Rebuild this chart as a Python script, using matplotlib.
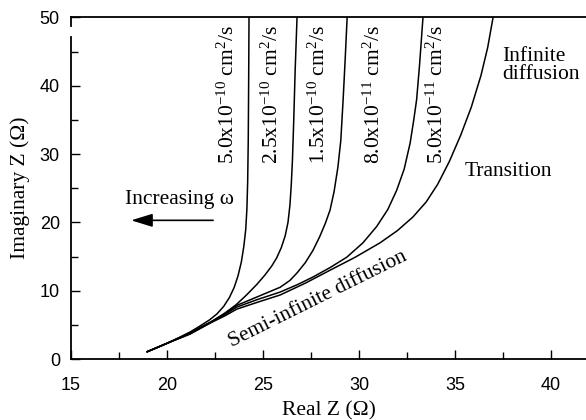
import numpy as np
import matplotlib
matplotlib.use("Agg")
import matplotlib.pyplot as plt
from matplotlib.ticker import MultipleLocator

plt.rcParams['mathtext.fontset'] = 'custom'
plt.rcParams['mathtext.rm'] = 'Liberation Serif'
plt.rcParams['mathtext.it'] = 'Liberation Serif:italic'

labels = [r"5.0x10$^{-10}$ cm$^{2}$/s", r"2.5x10$^{-10}$ cm$^{2}$/s",
          r"1.5x10$^{-10}$ cm$^{2}$/s", r"8.0x10$^{-11}$ cm$^{2}$/s",
          r"5.0x10$^{-11}$ cm$^{2}$/s"]

re_1 = [18.97, 19.5, 20.0, 20.6, 21.2, 21.7, 22.2, 22.6, 22.95, 23.25, 23.5, 23.7,
        23.87, 24.0, 24.1, 24.16, 24.2, 24.23, 24.25, 24.27]
im_1 = [1.07, 1.7, 2.3, 3.1, 3.95, 4.8, 5.7, 6.6, 7.7, 9.0, 10.5, 12.2,
        14.2, 16.5, 19.0, 22.0, 26.0, 32.0, 40.0, 50.0]

re_2 = [18.97, 20.0, 21.2, 22.3, 23.0, 23.6, 24.15, 24.67, 25.1, 25.45, 25.71,
        25.95, 26.15, 26.3, 26.4, 26.47, 26.53, 26.6, 26.67, 26.77]
im_2 = [1.07, 2.3, 3.85, 5.45, 6.7, 7.95, 9.4, 10.9, 12.3, 13.6, 14.8,
        16.3, 18.0, 20.0, 22.5, 25.5, 29.0, 35.0, 42.0, 50.0]

re_3 = [18.97, 20.0, 21.2, 22.24, 23.0, 23.63, 24.7, 25.89, 26.4, 26.77, 27.2,
        27.6, 27.95, 28.25, 28.49, 28.7, 28.9, 29.05, 29.17, 29.28, 29.38]
im_3 = [1.07, 2.3, 3.75, 5.35, 6.6, 7.85, 9.1, 10.5, 11.5, 12.6, 14.1,
        15.9, 17.9, 19.9, 21.8, 24.5, 28.1, 32.0, 37.9, 44.0, 50.0]

re_4 = [18.97, 20.0, 21.2, 22.24, 23.0, 23.63, 24.7, 25.89, 26.8, 27.6, 28.5,
        29.36, 30.2, 30.92, 31.5, 31.96, 32.35, 32.66, 32.85, 33.0, 33.15, 33.33]
im_4 = [1.07, 2.3, 3.7, 5.3, 6.5, 7.6, 8.7, 9.8, 10.9, 12.0, 13.4,
        14.9, 17.0, 19.4, 21.9, 24.7, 27.8, 31.6, 35.0, 38.0, 43.0, 50.0]

re_5 = [18.97, 20.0, 21.2, 22.24, 23.0, 23.63, 24.7, 25.89, 27.2, 28.49, 29.8,
        31.09, 32.0, 32.81, 33.5, 34.1, 34.7, 35.3, 35.85, 36.35, 36.7, 36.98]
im_5 = [1.07, 2.3, 3.65, 5.25, 6.3, 7.3, 8.3, 9.37, 11.1, 13.0, 14.9,
        17.0, 18.8, 20.8, 23.0, 25.6, 28.9, 32.8, 36.9, 41.5, 45.6, 50.0]

curves = [(re_1, im_1), (re_2, im_2), (re_3, im_3), (re_4, im_4), (re_5, im_5)]
label_x = [23.18, 25.47, 27.92, 30.78, 34.06]

fig = plt.figure(figsize=(5.86, 4.2), dpi=100)
ax = fig.add_axes([0.1212, 0.1452, 0.8788, 0.8133])

for (xr, yi) in curves:
    ax.plot(xr, yi, color='black', lw=1.1, solid_joinstyle='round')

serif = 'Liberation Serif'
for lx, lab in zip(label_x, labels):
    ax.text(lx, 48.9, lab, rotation=90, ha='center', va='top',
            family=serif, fontsize=15.5)

ax.text(37.45, 43.0, "Infinite\ndiffusion", ha='left', va='center',
        family=serif, fontsize=15.5, linespacing=0.95)
ax.text(35.52, 27.4, "Transition", ha='left', va='center',
        family=serif, fontsize=15.5)
ax.text(27.85, 8.7, "Semi-infinite diffusion", rotation=26.4,
        rotation_mode='anchor', ha='center', va='center',
        family=serif, fontsize=15.5)
ax.text(20.63, 23.4, "Increasing ω", ha='center', va='center',
        family=serif, fontsize=15.5)
ax.annotate("", xy=(18.13, 20.3), xytext=(22.4, 20.3),
            arrowprops=dict(arrowstyle='-|>,head_length=1.3,head_width=0.4',
                            color='black', lw=1.2, shrinkA=0, shrinkB=0))

ax.set_xlim(15, 41.82)
ax.set_ylim(0, 50)
ax.xaxis.set_major_locator(MultipleLocator(5))
ax.xaxis.set_minor_locator(MultipleLocator(2.5))
ax.yaxis.set_major_locator(MultipleLocator(10))
ax.yaxis.set_minor_locator(MultipleLocator(5))
ax.tick_params(which='both', direction='in', top=False, right=False, width=1.0)
ax.tick_params(which='major', length=6.5)
ax.tick_params(which='minor', length=5)
ax.tick_params(axis='x', pad=13)
ax.tick_params(axis='y', pad=8)
for lab in ax.get_xticklabels() + ax.get_yticklabels():
    lab.set_family('Liberation Sans')
    lab.set_fontsize(13)

ax.spines['right'].set_visible(False)
for s in ['left', 'bottom', 'top']:
    ax.spines[s].set_linewidth(1.3)
ax.spines['left'].set_bounds(0, 47.1)
ax.plot([15, 15], [48.8, 50], color='black', lw=1.3, clip_on=False)

ax.set_xlabel("Real Z (Ω)", family=serif, fontsize=15.5, labelpad=5)
ax.set_ylabel("Imaginary Z (Ω)", family=serif, fontsize=15.5, labelpad=7)

fig.savefig("out.png", dpi=100)
